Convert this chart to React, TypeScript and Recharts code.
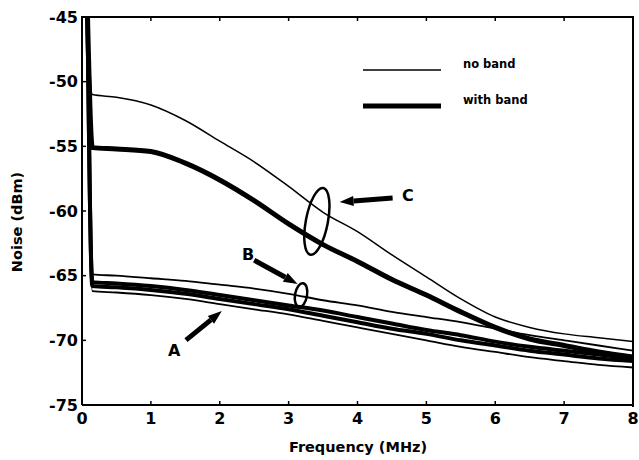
import { LineChart, Line, XAxis, YAxis, ReferenceLine, ReferenceDot, Legend } from "recharts";

// frequency samples (MHz); the first point is the DC spike that runs off the top
const freq = [0.08, 0.15, 0.5, 1, 1.5, 2, 2.5, 3, 3.5, 4, 4.5, 5, 5.5, 6, 6.5, 7, 7.5, 8];

// group C (upper pair)
const cNoBand = [-45, -51.0, -51.2, -51.8, -53.0, -54.6, -56.2, -58.1, -60.1, -61.6, -63.4, -65.1, -66.8, -68.2, -69.0, -69.5, -69.8, -70.1];
const cWithBand = [-45, -55.1, -55.2, -55.4, -56.3, -57.6, -59.2, -61.0, -62.6, -63.9, -65.3, -66.5, -67.8, -69.0, -69.9, -70.4, -70.9, -71.3];
// group B
const bNoBand = [-45, -64.9, -65.0, -65.2, -65.4, -65.7, -66.0, -66.4, -66.9, -67.3, -67.8, -68.2, -68.6, -69.1, -69.6, -70.0, -70.4, -70.8];
const bWithBand = [-45, -65.5, -65.6, -65.8, -66.1, -66.5, -66.9, -67.3, -67.7, -68.2, -68.7, -69.2, -69.6, -70.1, -70.5, -70.8, -71.1, -71.4];
// group A
const aWithBand = [-45, -65.8, -65.9, -66.1, -66.4, -66.8, -67.2, -67.6, -68.1, -68.6, -69.1, -69.5, -70.0, -70.4, -70.8, -71.1, -71.4, -71.6];
const aNoBand = [-45, -66.2, -66.3, -66.5, -66.8, -67.2, -67.6, -68.0, -68.5, -69.0, -69.5, -70.0, -70.5, -70.9, -71.3, -71.6, -71.9, -72.1];

const xTicks = [0, 1, 2, 3, 4, 5, 6, 7, 8];
const yTicks = [-75, -70, -65, -60, -55, -50, -45];

const legendItems = [
  { label: "no band", width: 1.5 },
  { label: "with band", width: 5 },
];

// annotation marks: ellipses, arrows (tail -> tip) and letters, in data units
const ellipses = [
  { x: 3.41, y: -60.8, rx: 11, ry: 34, tilt: 11 },
  { x: 3.18, y: -66.5, rx: 6, ry: 12, tilt: 10 },
];
const arrows = [
  { x1: 4.51, y1: -59.0, x2: 3.74, y2: -59.3 },
  { x1: 2.5, y1: -63.8, x2: 3.13, y2: -65.65 },
  { x1: 1.51, y1: -69.98, x2: 2.03, y2: -67.74 },
];
const letters = [
  { x: 4.73, y: -58.77, text: "C" },
  { x: 2.41, y: -63.33, text: "B" },
  { x: 1.34, y: -70.75, text: "A" },
];

const data = freq.map((f, i) => ({
  f,
  cNoBand: cNoBand[i],
  cWithBand: cWithBand[i],
  bNoBand: bNoBand[i],
  bWithBand: bWithBand[i],
  aWithBand: aWithBand[i],
  aNoBand: aNoBand[i],
}));

const FONT = "'DejaVu Sans', 'Liberation Sans', sans-serif";

const Arrow = (props: any) => {
  const { x1, y1, x2, y2 } = props;
  const dx = x2 - x1;
  const dy = y2 - y1;
  const len = Math.sqrt(dx * dx + dy * dy);
  const ux = dx / len;
  const uy = dy / len;
  const headLen = 14;
  const headW = 5;
  const bx = x2 - ux * headLen;
  const by = y2 - uy * headLen;
  const pts = `${x2},${y2} ${bx - uy * headW},${by + ux * headW} ${bx + uy * headW},${by - ux * headW}`;
  return (
    <g>
      <line x1={x1} y1={y1} x2={bx} y2={by} stroke="#000" strokeWidth={5} />
      <polygon points={pts} fill="#000" />
    </g>
  );
};

const LegendBox = () => (
  <svg width={200} height={70}>
    {legendItems.map((it, i) => (
      <g key={it.label}>
        <line x1={8} x2={86} y1={15 + i * 36} y2={15 + i * 36} stroke="#000" strokeWidth={it.width} />
        <text x={108} y={13 + i * 36} fontFamily={FONT} fontWeight="bold" fontSize={11.5} fill="#000">
          {it.label}
        </text>
      </g>
    ))}
  </svg>
);

const NoLabel = () => <g />;

export default function App() {
  const tickStyle = { fill: "#000", fontSize: 16, fontWeight: "bold" as const, fontFamily: FONT };
  return (
    <div style={{ position: "fixed", left: 0, top: 0, width: 639, height: 460, background: "#fff" }}>
      <LineChart width={639} height={460} data={data} margin={{ top: 0, right: 0, bottom: 0, left: 0 }}>
        <XAxis
          dataKey="f"
          type="number"
          domain={[0, 8]}
          ticks={xTicks}
          allowDataOverflow
          height={55}
          tick={tickStyle}
          tickSize={-4}
          tickMargin={12}
          axisLine={{ stroke: "#000", strokeWidth: 2 }}
          tickLine={{ stroke: "#000", strokeWidth: 1.5 }}
          label={() => (
            <text x={358} y={452} textAnchor="middle" fontFamily={FONT} fontWeight="bold" fontSize={14.5} fill="#000">
              Frequency (MHz)
            </text>
          )}
        />
        <XAxis
          xAxisId="top"
          orientation="top"
          dataKey="f"
          type="number"
          domain={[0, 8]}
          ticks={xTicks}
          height={17}
          tick={NoLabel}
          tickSize={-4}
          axisLine={{ stroke: "#000", strokeWidth: 2 }}
          tickLine={{ stroke: "#000", strokeWidth: 1.5 }}
        />
        <YAxis
          type="number"
          domain={[-75, -45]}
          ticks={yTicks}
          allowDataOverflow
          width={82}
          tick={tickStyle}
          tickSize={-4}
          tickMargin={8}
          axisLine={{ stroke: "#000", strokeWidth: 2 }}
          tickLine={{ stroke: "#000", strokeWidth: 1.5 }}
          label={() => (
            <text x={22} y={222} transform="rotate(-90 22 222)" textAnchor="middle" fontFamily={FONT} fontWeight="bold" fontSize={14.5} fill="#000">
              Noise (dBm)
            </text>
          )}
        />
        <YAxis
          yAxisId="right"
          orientation="right"
          type="number"
          domain={[-75, -45]}
          ticks={yTicks}
          width={6}
          tick={NoLabel}
          tickSize={-4}
          axisLine={{ stroke: "#000", strokeWidth: 2 }}
          tickLine={{ stroke: "#000", strokeWidth: 1.5 }}
        />
        <Legend layout="vertical" align="center" verticalAlign="middle" content={() => <LegendBox />} wrapperStyle={{ left: 355, top: 55, width: 200, height: 70 }} />
        <Line dataKey="cNoBand" type="monotone" stroke="#000" strokeWidth={1.5} dot={false} isAnimationActive={false} legendType="none" />
        <Line dataKey="cWithBand" type="monotone" stroke="#000" strokeWidth={5} dot={false} isAnimationActive={false} legendType="none" />
        <Line dataKey="bNoBand" type="monotone" stroke="#000" strokeWidth={1.8} dot={false} isAnimationActive={false} legendType="none" />
        <Line dataKey="bWithBand" type="monotone" stroke="#000" strokeWidth={4} dot={false} isAnimationActive={false} legendType="none" />
        <Line dataKey="aWithBand" type="monotone" stroke="#000" strokeWidth={4} dot={false} isAnimationActive={false} legendType="none" />
        <Line dataKey="aNoBand" type="monotone" stroke="#000" strokeWidth={1.8} dot={false} isAnimationActive={false} legendType="none" />
        {ellipses.map((e, i) => (
          <ReferenceDot
            key={`e${i}`}
            x={e.x}
            y={e.y}
            r={0}
            shape={(p: any) => (
              <ellipse cx={p.cx} cy={p.cy} rx={e.rx} ry={e.ry} fill="none" stroke="#000" strokeWidth={2.5} transform={`rotate(${e.tilt} ${p.cx} ${p.cy})`} />
            )}
          />
        ))}
        {arrows.map((a, i) => (
          <ReferenceLine
            key={`a${i}`}
            segment={[
              { x: a.x1, y: a.y1 },
              { x: a.x2, y: a.y2 },
            ]}
            shape={(p: any) => <Arrow {...p} />}
          />
        ))}
        {letters.map((l) => (
          <ReferenceDot
            key={l.text}
            x={l.x}
            y={l.y}
            r={0}
            shape={(p: any) => (
              <text x={p.cx} y={p.cy} dy="0.36em" textAnchor="middle" fontFamily={FONT} fontWeight="bold" fontSize={16} fill="#000">
                {l.text}
              </text>
            )}
          />
        ))}
      </LineChart>
      {/* top and right edges of the plot frame */}
      <div
        style={{
          position: "absolute",
          left: 81,
          top: 16,
          width: 551,
          height: 389,
          borderTop: "2px solid #000",
          borderRight: "2px solid #000",
          pointerEvents: "none",
        }}
      />
    </div>
  );
}
